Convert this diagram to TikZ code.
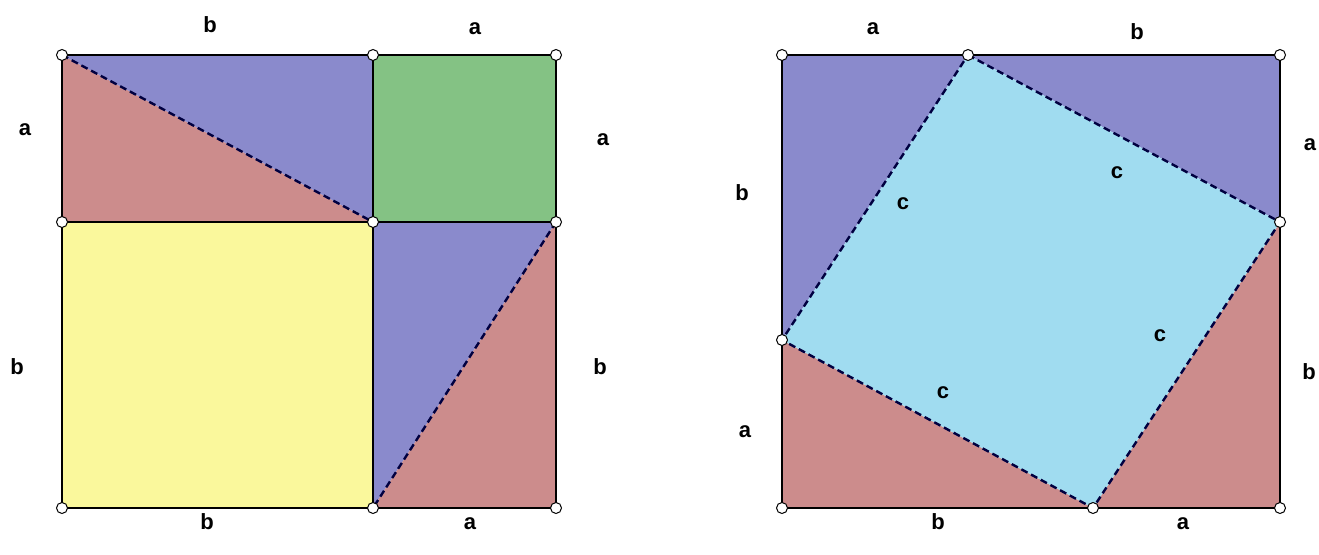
\documentclass[tikz,border=0pt]{standalone}
\usepackage{fontspec}
\setmainfont{Liberation Sans}
\begin{document}
\begin{tikzpicture}[x=1pt,y=-1pt,
  vtx/.style={circle,draw=black,fill=white,line width=1pt,inner sep=0pt,minimum size=11pt},
  lbl/.style={font=\fontsize{22}{24}\selectfont\bfseries,inner sep=0pt},
  edge/.style={draw=black,line width=2pt},
  inner/.style={draw=black,line width=1.6pt},
  diag/.style={draw=black!75!blue,line width=2.4pt,dash pattern=on 7pt off 4pt}]
\definecolor{pblue}{RGB}{138,138,204}
\definecolor{pred}{RGB}{204,140,140}
\definecolor{pgreen}{RGB}{132,194,132}
\definecolor{pyellow}{RGB}{250,248,156}
\definecolor{pcyan}{RGB}{160,220,240}
\useasboundingbox (0,0) rectangle (1319,554);
\fill[white] (0,0) rectangle (1319,554);
% ---------- left square ----------
\coordinate (A1) at (62,55);
\coordinate (A2) at (373,55);
\coordinate (A3) at (556,55);
\coordinate (B1) at (62,222);
\coordinate (B2) at (373,222);
\coordinate (B3) at (556,222);
\coordinate (C1) at (62,508);
\coordinate (C2) at (373,508);
\coordinate (C3) at (556,508);
\fill[pred] (A1) -- (B2) -- (B1) -- cycle;
\fill[pblue] (A1) -- (A2) -- (B2) -- cycle;
\fill[pgreen] (A2) rectangle (B3);
\fill[pyellow] (B1) rectangle (C2);
\fill[pblue] (B2) -- (B3) -- (C2) -- cycle;
\fill[pred] (B3) -- (C3) -- (C2) -- cycle;
\draw[inner] (A2) -- (C2);
\draw[inner] (B1) -- (B3);
\draw[diag] (A1) -- (B2);
\draw[diag] (B3) -- (C2);
\draw[edge] (A1) rectangle (C3);
\foreach \p in {A1,A2,A3,B1,B2,B3,C1,C2,C3} \node[vtx] (n\p) at (\p) {};
\node[lbl] (l1) at (210,25) {b};
\node[lbl] (l2) at (475,29) {a};
\node[lbl] (l3) at (25,130) {a};
\node[lbl] (l4) at (603,140) {a};
\node[lbl] (l5) at (17,367) {b};
\node[lbl] (l6) at (600,367) {b};
\node[lbl] (l7) at (207,522) {b};
\node[lbl] (l8) at (470,524) {a};
% ---------- right square ----------
\coordinate (R1) at (782,55);
\coordinate (R2) at (968,55);
\coordinate (R3) at (1280,55);
\coordinate (R4) at (1280,222);
\coordinate (R5) at (1280,508);
\coordinate (R6) at (1093,508);
\coordinate (R7) at (782,508);
\coordinate (R8) at (782,340);
\fill[pblue] (R1) -- (R2) -- (R8) -- cycle;
\fill[pblue] (R2) -- (R3) -- (R4) -- cycle;
\fill[pred] (R4) -- (R5) -- (R6) -- cycle;
\fill[pred] (R8) -- (R6) -- (R7) -- cycle;
\fill[pcyan] (R2) -- (R4) -- (R6) -- (R8) -- cycle;
\draw[diag] (R2) -- (R4) -- (R6) -- (R8) -- cycle;
\draw[edge] (R1) rectangle (R5);
\foreach \p in {R1,R2,R3,R4,R5,R6,R7,R8} \node[vtx] (n\p) at (\p) {};
\node[lbl] (r1) at (873,29) {a};
\node[lbl] (r2) at (1137,32) {b};
\node[lbl] (r3) at (742,193) {b};
\node[lbl] (r4) at (1310,145) {a};
\node[lbl] (r5) at (1309,372) {b};
\node[lbl] (r6) at (745,432) {a};
\node[lbl] (r7) at (938,522) {b};
\node[lbl] (r8) at (1183,524) {a};
\node[lbl] (c1) at (903,204) {c};
\node[lbl] (c2) at (1117,173) {c};
\node[lbl] (c3) at (1160,336) {c};
\node[lbl] (c4) at (943,393) {c};
\end{tikzpicture}
\end{document}
